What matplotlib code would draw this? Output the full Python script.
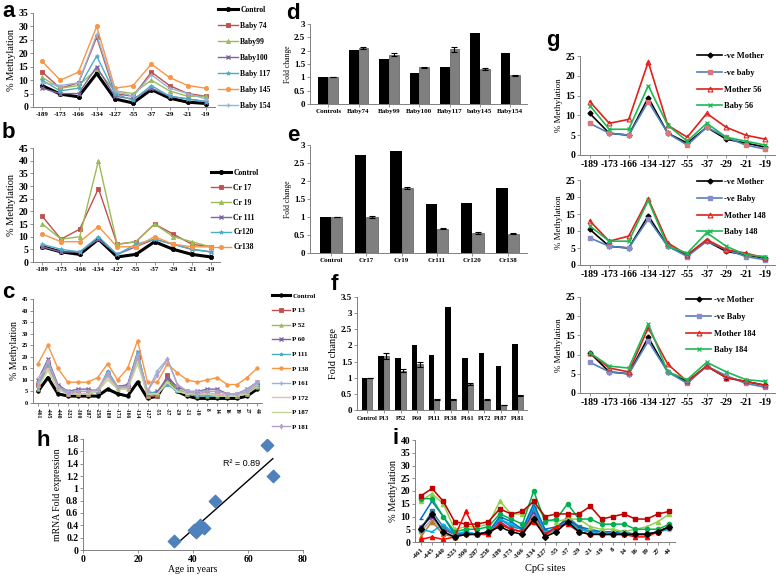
import matplotlib
matplotlib.use('Agg')
import matplotlib.pyplot as plt
import numpy as np

plt.rcParams['font.family'] = 'Liberation Serif'
plt.rcParams['font.weight'] = 'bold'

W, H = 778, 576
fig = plt.figure(figsize=(7.78, 5.76), dpi=100)

# ---------------- data ----------------
sites = ['-189', '-173', '-166', '-134', '-127', '-55', '-37', '-29', '-21', '-19']

# panel a
a_control = [8, 4.8, 3.8, 12.5, 3, 1.5, 6.5, 3.3, 1.8, 1.3]
a_baby74 = [13, 7, 9, 26, 5, 4, 13, 8, 5, 4]
a_baby99 = [11, 7, 8, 14, 6, 5, 10, 6, 4, 4]
a_baby100 = [7, 5, 5, 15, 4, 3, 7, 4, 3, 2]
a_baby117 = [10, 6, 7, 19, 5, 2.5, 8, 4, 3, 2]
a_baby145 = [17, 10, 13, 30, 7, 8, 16, 11, 8, 7]
a_baby154 = [9, 8, 9, 27, 6, 4, 12, 7, 5, 3]

# panel b
b_control = [6, 4, 3, 9, 2, 3, 8, 5, 3, 2]
b_cr17 = [18, 9, 13, 29, 7, 8, 15, 11, 7, 6]
b_cr19 = [15, 9, 10, 40, 7, 8, 15, 10, 8, 6]
b_cr111 = [6, 4, 4, 9, 3, 6, 9, 7, 5, 4]
b_cr120 = [7, 5, 4, 10, 3, 7, 9, 7, 5, 4]
b_cr138 = [11, 8, 8, 14, 6, 6, 10, 7, 6, 6]

# panel c / i sites
long_sites = ['-461', '-445', '-440', '-323', '-300', '-287', '-258', '-189', '-173', '-166', '-134',
              '-127', '-55', '-37', '-29', '-21', '-19', '8', '14', '16', '19', '27', '44']

c_control = [5, 11, 4, 3, 3, 3, 3, 6, 4, 3, 9, 2, 3, 10, 5, 3, 2, 2, 2, 2, 2, 3, 6]
c_p13 = [8, 17, 7, 4, 4, 4, 5, 12, 7, 7, 20, 3, 3, 12, 6, 4, 4, 4, 4, 3, 3, 4, 8]
c_p52 = [6, 16, 6, 4, 4, 4, 5, 12, 6, 6, 19, 3, 4, 10, 6, 4, 3, 3, 3, 3, 3, 4, 7]
c_p60 = [10, 19, 8, 5, 6, 6, 5, 13, 7, 8, 22, 4, 5, 11, 7, 5, 5, 6, 6, 4, 4, 6, 9]
c_p111 = [7, 17, 7, 4, 4, 4, 5, 14, 7, 7, 22, 5, 4, 8, 5, 4, 3, 3, 3, 3, 3, 5, 8]
c_p138 = [17, 25, 15, 9, 9, 9, 11, 17, 10, 15, 27, 9, 9, 17, 13, 10, 9, 10, 11, 8, 8, 11, 15]
c_p161 = [9, 18, 7, 5, 5, 5, 6, 12, 7, 7, 21, 5, 14, 19, 8, 5, 5, 5, 5, 4, 4, 6, 9]
c_p172 = [11, 15, 6, 4, 4, 4, 6, 11, 6, 6, 18, 4, 4, 9, 5, 4, 4, 4, 4, 3, 3, 5, 8]
c_p187 = [7, 14, 6, 4, 4, 4, 5, 10, 6, 6, 17, 4, 4, 9, 5, 4, 4, 4, 3, 3, 3, 4, 7]
c_p181 = [8, 18, 7, 4, 5, 5, 6, 13, 7, 7, 20, 5, 12, 19, 8, 5, 4, 5, 5, 4, 4, 5, 9]

# panel d
d_names = ['Controls', 'Baby74', 'Baby99', 'Baby100', 'Baby117', 'baby145', 'Baby154']
d_black = [1, 2.03, 1.7, 1.18, 1.4, 2.67, 1.93]
d_gray = [1, 2.1, 1.85, 1.37, 2.05, 1.32, 1.07]
d_err = [0, 0.03, 0.05, 0.03, 0.1, 0.03, 0.02]

# panel e
e_names = ['Control', 'Cr17', 'Cr19', 'Cr111', 'Cr120', 'Cr138']
e_black = [1, 2.72, 2.83, 1.35, 1.4, 1.81]
e_gray = [1, 1.01, 1.8, 0.68, 0.56, 0.54]
e_err = [0, 0.03, 0.02, 0.02, 0.02, 0.02]

# panel f
f_names = ['Control', 'P13', 'P52', 'P60', 'P111', 'P138', 'P161', 'P172', 'P187', 'P181']
f_black = [1, 1.66, 1.6, 2.0, 1.7, 3.18, 1.6, 1.76, 1.37, 2.03]
f_gray = [1, 1.68, 1.22, 1.41, 0.33, 0.33, 0.8, 0.32, 0.15, 0.45]
f_err = [0, 0.1, 0.05, 0.07, 0.01, 0.02, 0.03, 0.01, 0.01, 0.02]

# panel g
g_mother_neg = [10.5, 5.5, 5, 14.5, 5.5, 3, 7, 4, 3, 2]
g_baby_neg = [8, 5.5, 5, 13.5, 5.5, 2.5, 7, 4.5, 2.5, 1.5]
g_mother56 = [13.5, 8, 9, 23.5, 7.5, 4.5, 10.5, 7, 5, 4]
g_baby56 = [12.5, 6.5, 6.5, 17.5, 7.5, 3.5, 8, 4.5, 3.5, 2.5]
g_mother148 = [13, 7, 8.5, 19.5, 6.5, 3, 7.5, 4.5, 3.5, 2]
g_baby148 = [11.5, 7, 7, 19, 5.5, 3.5, 9.5, 5.5, 3, 2.5]
g_mother184 = [10.5, 6.5, 5.5, 17, 7.5, 3, 7, 4, 3, 2]
g_baby184 = [10.5, 7, 6.5, 18, 5.5, 3.5, 8, 5.5, 3.5, 3]

# panel h
h_age = [33, 40.5, 41, 42.5, 44, 48, 67, 69]
h_fold = [0.15, 0.33, 0.3, 0.4, 0.35, 0.8, 1.71, 1.2]

# panel i
i_red = [18, 21, 16, 8, 7, 7, 8, 13, 11, 12, 16, 10, 11, 11, 11, 14, 9, 10, 11, 9, 9, 11, 12]
i_lgreen = [16, 19, 15, 5, 6, 6, 7, 16, 11, 11, 16, 9, 8, 9, 9, 6, 5, 5, 4, 5, 6, 8, 11]
i_green = [17, 17, 10, 4, 5, 5, 6, 11, 9, 7, 20, 8, 9, 15, 9, 9, 7, 7, 7, 5, 5, 5, 7]
i_blue = [9, 16, 10, 3, 3, 3, 4, 10, 8, 5, 15, 5, 6, 9, 6, 5, 4, 4, 3, 3, 3, 4, 6]
i_lblue = [5, 4, 7, 3, 4, 3, 4, 9, 7, 5, 14, 4, 5, 8, 5, 4, 3, 3, 3, 3, 3, 4, 5]
i_teal = [5, 12, 6, 3, 4, 3, 4, 9, 6, 5, 13, 4, 5, 10, 6, 4, 4, 4, 4, 3, 3, 4, 6]
i_purple = [6, 10, 5, 3, 3, 3, 4, 8, 5, 4, 12, 3, 5, 9, 5, 4, 3, 3, 3, 3, 3, 4, 6]
i_gray = [4, 9, 4, 2, 3, 3, 3, 7, 5, 4, 11, 3, 4, 8, 4, 3, 3, 3, 3, 3, 3, 4, 5]
i_brown = [2, 8, 3, 2, 3, 3, 4, 7, 5, 4, 10, 3, 5, 10, 5, 4, 3, 3, 3, 3, 3, 4, 6]
i_black = [5, 11, 4, 2, 3, 3, 4, 6, 4, 3, 9, 2, 4, 8, 4, 3, 3, 3, 3, 3, 3, 4, 6]
i_redtri = [1, 2, 1, 2, 12, 3, 3, 7, 5, 4, 8, 3, 6, 7, 4, 3, 3, 3, 3, 2, 2, 4, 6]


def box(l, t, r, b):
    return fig.add_axes([l / W, 1 - b / H, (r - l) / W, (b - t) / H])


def style(ax, yfs, xfs):
    for s in ['top', 'right']:
        ax.spines[s].set_visible(False)
    for s in ['left', 'bottom']:
        ax.spines[s].set_color('#808080')
        ax.spines[s].set_linewidth(0.7)
    ax.tick_params(axis='y', labelsize=yfs, length=2, width=0.6, pad=1.5, colors='#808080', labelcolor='black')
    ax.tick_params(axis='x', labelsize=xfs, length=2, width=0.6, pad=1.5, colors='#808080', labelcolor='black')


def letter(x, y, s):
    fig.text(x / W, 1 - y / H, s, fontsize=16, fontweight='bold', family='Liberation Sans', va='baseline')


def legend(ax, x, y, fs, spacing, hl=2.6):
    ax.legend(loc='upper left', bbox_to_anchor=(x / W, 1 - y / H), bbox_transform=fig.transFigure,
              frameon=False, fontsize=fs, handlelength=hl, labelspacing=spacing,
              borderpad=0, borderaxespad=0, handletextpad=0.3)


def lines(ax, cats, series, ms=3):
    x = np.arange(len(cats))
    for lab, vals, col, mk, lw in series:
        ax.plot(x, vals, color=col, marker=mk, markersize=ms, lw=lw, label=lab,
                markeredgewidth=1 if mk in 'x+' else 0.6)
    ax.set_xticks(x)
    ax.set_xticklabels(cats)
    ax.set_xlim(-0.5, len(cats) - 0.5)


# ---------------- a ----------------
ax = box(33, 13, 215, 107)
lines(ax, sites, [
    ('Control', a_control, 'black', 'o', 2.2),
    ('Baby 74', a_baby74, '#C0504D', 's', 1),
    ('Baby99', a_baby99, '#9BBB59', '^', 1),
    ('Baby100', a_baby100, '#8064A2', 'x', 1),
    ('Baby 117', a_baby117, '#4BACC6', '*', 1),
    ('Baby 145', a_baby145, '#F79646', 'o', 1),
    ('Baby 154', a_baby154, '#95B3D7', '+', 1),
])
ax.set_ylim(0, 35)
ax.set_yticks(range(0, 36, 5))
style(ax, 7, 5)
ax.set_ylabel('% Methylation', fontsize=7.5, labelpad=2)
legend(ax, 218, 6, 5.5, 1.05)
letter(2, 17, 'a')

# ---------------- b ----------------
ax = box(33, 148, 220, 262)
lines(ax, sites, [
    ('Control', b_control, 'black', 'o', 2.2),
    ('Cr 17', b_cr17, '#C0504D', 's', 1),
    ('Cr 19', b_cr19, '#9BBB59', '^', 1),
    ('Cr 111', b_cr111, '#8064A2', 'x', 1),
    ('Cr120', b_cr120, '#4BACC6', '*', 1),
    ('Cr138', b_cr138, '#F79646', 'o', 1),
])
ax.set_ylim(0, 45)
ax.set_yticks(range(0, 46, 5))
style(ax, 7, 5)
ax.set_ylabel('% Methylation', fontsize=7.5, labelpad=2)
legend(ax, 211, 169, 5.5, 0.9)
letter(2, 138, 'b')

# ---------------- c ----------------
ax = box(33, 299, 262, 403)
lines(ax, long_sites, [
    ('Control', c_control, 'black', 'o', 2.2),
    ('P 13', c_p13, '#C0504D', 's', 1),
    ('P 52', c_p52, '#9BBB59', '^', 1),
    ('P 60', c_p60, '#8064A2', 'x', 1),
    ('P 111', c_p111, '#4BACC6', '*', 1),
    ('P 138', c_p138, '#F79646', 'o', 1),
    ('P 161', c_p161, '#95B3D7', '+', 1),
    ('P 172', c_p172, '#E6B9B8', '_', 1),
    ('P 187', c_p187, '#C3D69B', '_', 1),
    ('P 181', c_p181, '#B3A2C7', 'd', 1),
], ms=2.5)
ax.set_ylim(0, 45)
ax.set_yticks(range(0, 46, 5))
style(ax, 4.5, 4)
plt.setp(ax.get_xticklabels(), rotation=270)
ax.set_ylabel('% Methylation', fontsize=7, labelpad=2)
legend(ax, 272, 293, 5, 1.25)
letter(2, 298, 'c')


# ---------------- bar panels ----------------
def bars(ax, names, black, gray, err, ymax, step):
    x = np.arange(len(names))
    w = 0.32
    ax.bar(x - w / 2, black, w, color='black')
    ax.bar(x + w / 2, gray, w, color='#7F7F7F', edgecolor='#404040', linewidth=0.4,
           yerr=err, capsize=2, error_kw=dict(elinewidth=0.8, capthick=0.8, ecolor='black'))
    ax.set_xticks(x)
    ax.set_xticklabels(names)
    ax.set_xlim(-0.6, len(names) - 0.45)
    ax.set_ylim(0, ymax)
    ax.set_yticks(np.arange(0, ymax + 0.01, step))
    ax.set_yticklabels(['0' if v == 0 else ('%g' % v) for v in np.arange(0, ymax + 0.01, step)])


ax = box(310, 24, 527, 104)
bars(ax, d_names, d_black, d_gray, d_err, 3, 0.5)
style(ax, 6.5, 5)
ax.set_ylabel('Fold change', fontsize=5.5, labelpad=1)
letter(286, 19, 'd')

ax = box(310, 145, 527, 253)
bars(ax, e_names, e_black, e_gray, e_err, 3, 0.5)
style(ax, 6.5, 5)
ax.set_ylabel('Fold change', fontsize=5.5, labelpad=1)
letter(287, 141, 'e')

ax = box(357, 297, 527, 410)
bars(ax, f_names, f_black, f_gray, f_err, 3.5, 0.5)
style(ax, 6.5, 4.6)
ax.tick_params(axis='x', pad=2.5)
ax.set_ylabel('Fold change', fontsize=7.5, labelpad=2)
letter(331, 290, 'f')


# ---------------- g ----------------
def gpanel(t, b, mother, baby, mlab, blab, negbaby_lab, neg_face, ly, lx):
    ax = box(580, t, 775, b)
    x = np.arange(len(sites))
    ax.plot(x, g_mother_neg, color='black', marker='D', markersize=2.5, lw=1.2, label='-ve Mother')
    ax.plot(x, g_baby_neg, color='#4F81BD', marker='s', markersize=3.5, lw=1.2,
            markerfacecolor=neg_face, markeredgecolor=neg_face, label=negbaby_lab)
    ax.plot(x, mother, color='#E0201B', marker='^', markersize=3.5, lw=1.2,
            markerfacecolor='none', markeredgewidth=0.8, label=mlab)
    ax.plot(x, baby, color='#1DB954', marker='x', markersize=3.5, lw=1.2, markeredgewidth=0.9, label=blab)
    ax.set_xticks(x)
    ax.set_xticklabels(sites)
    ax.set_xlim(-0.5, len(sites) - 0.5)
    ax.set_ylim(0, 25)
    ax.set_yticks(range(0, 26, 5))
    style(ax, 7, 7)
    ax.set_ylabel('% Methylation', fontsize=6.5, labelpad=2)
    legend(ax, lx, ly, 6, 1.05, hl=3)
    return ax


gpanel(56, 155, g_mother56, g_baby56, 'Mother 56', 'Baby 56', '-ve baby', '#D9787A', 52, 697)
gpanel(180, 265, g_mother148, g_baby148, 'Mother 148', 'Baby 148', '-ve Baby', '#8C8CC8', 178, 697)
gpanel(297, 393, g_mother184, g_baby184, 'Mother 184', 'Baby 184', '-ve Baby', '#8C8CC8', 296, 686)
letter(546, 46, 'g')

# ---------------- h ----------------
ax = box(83, 439, 303, 550)
ax.scatter(h_age, h_fold, marker='D', s=40, color='#4F81BD', zorder=3)
k, c0 = np.polyfit(h_age, h_fold, 1)
xx = np.array([min(h_age), max(h_age)])
ax.plot(xx, k * xx + c0, color='black', lw=1)
ax.text(51, 1.36, 'R² = 0.89', fontsize=6.5, fontweight='normal', family='Liberation Sans')
ax.set_xlim(0, 80)
ax.set_ylim(0, 1.8)
ax.set_xticks([0, 20, 40, 60, 80])
ax.set_yticks(np.arange(0, 1.81, 0.2))
ax.set_yticklabels(['0' if v == 0 else ('%g' % round(v, 1)) for v in np.arange(0, 1.81, 0.2)])
style(ax, 7, 7)
ax.set_ylabel('mRNA Fold expression', fontsize=7, labelpad=3)
ax.set_xlabel('Age in years', fontsize=7, labelpad=1)
letter(37, 446, 'h')

# ---------------- i ----------------
ax = box(415, 440, 675, 542)
x = np.arange(len(long_sites))
for vals, col, mk in [(i_gray, '#A5A5A5', 'o'), (i_purple, '#7030A0', 'x'), (i_teal, '#31859C', 's'),
                      (i_brown, '#C0762B', '^'), (i_lblue, '#00B0F0', '_'), (i_blue, '#0070C0', '_'),
                      (i_lgreen, '#92D050', '^'), (i_green, '#00B050', 'o'), (i_red, '#C00000', 's'),
                      (i_redtri, '#FF0000', '^'), (i_black, 'black', 'D')]:
    ax.plot(x, vals, color=col, marker=mk, markersize=3, lw=1.1)
ax.set_xticks(x)
ax.set_xticklabels(long_sites, rotation=45, ha='right', rotation_mode='anchor')
ax.set_xlim(-0.5, len(long_sites) - 0.5)
ax.set_ylim(0, 40)
ax.set_yticks(range(0, 41, 5))
style(ax, 7, 5)
ax.set_ylabel('% Methylation', fontsize=7.5, labelpad=2)
ax.set_xlabel('CpG sites', fontsize=7.5, labelpad=3)
letter(392, 444, 'i')

fig.savefig('out.png', dpi=100)
